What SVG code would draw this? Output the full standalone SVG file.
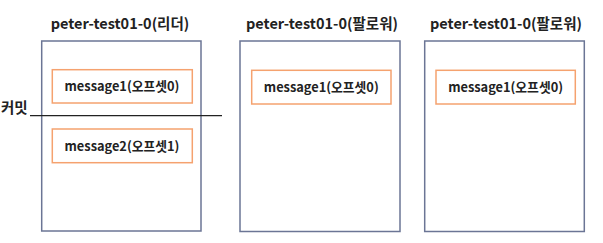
<svg xmlns="http://www.w3.org/2000/svg" width="603" height="243" viewBox="0 0 603 243">
<style>
.part{fill:#ffffff;stroke:#6b7595;stroke-width:1.5}
.msg{fill:#ffffff;stroke:#f5a26f;stroke-width:1.5}
.title{font-family:"Noto Sans CJK KR","Noto Sans",sans-serif;font-weight:bold;font-size:14.5px;fill:#222;text-anchor:middle}
.mtext{font-family:"Noto Sans CJK KR","Noto Sans",sans-serif;font-weight:bold;font-size:12.8px;fill:#222;text-anchor:middle}
.lbl{font-family:"Noto Sans CJK KR","Noto Sans",sans-serif;font-weight:bold;font-size:14.5px;fill:#222}
</style>
<rect width="603" height="243" fill="#ffffff"/>
<g id="leader">
<text class="title" x="120" y="29">peter-test01-0(리더)</text>
<rect class="part" x="41.7" y="41" width="159.3" height="190"/>
</g>
<g id="leader-msg1">
<rect class="msg" x="52.3" y="69.7" width="140" height="33.3"/>
<text class="mtext" x="122" y="91">message1(오프셋0)</text>
</g>
<g id="leader-msg2">
<rect class="msg" x="52.3" y="129" width="140" height="33.7"/>
<text class="mtext" x="122" y="150.5">message2(오프셋1)</text>
</g>
<g id="follower1">
<text class="title" x="322" y="29">peter-test01-0(팔로워)</text>
<rect class="part" x="240" y="41" width="160" height="190.5"/>
</g>
<g id="follower1-msg1">
<rect class="msg" x="251.7" y="70.3" width="139.3" height="33.7"/>
<text class="mtext" x="321.3" y="92">message1(오프셋0)</text>
</g>
<g id="follower2">
<text class="title" x="506" y="29">peter-test01-0(팔로워)</text>
<rect class="part" x="424.7" y="41" width="159.6" height="190.5"/>
</g>
<g id="follower2-msg1">
<rect class="msg" x="436" y="70.3" width="139.3" height="33.7"/>
<text class="mtext" x="505.6" y="92">message1(오프셋0)</text>
</g>
<g id="connectors">
<line x1="30" y1="115.7" x2="222" y2="115.7" stroke="#222" stroke-width="1.2"/>
</g>
<g id="commit-label">
<text class="lbl" x="1" y="113">커밋</text>
</g>
</svg>
